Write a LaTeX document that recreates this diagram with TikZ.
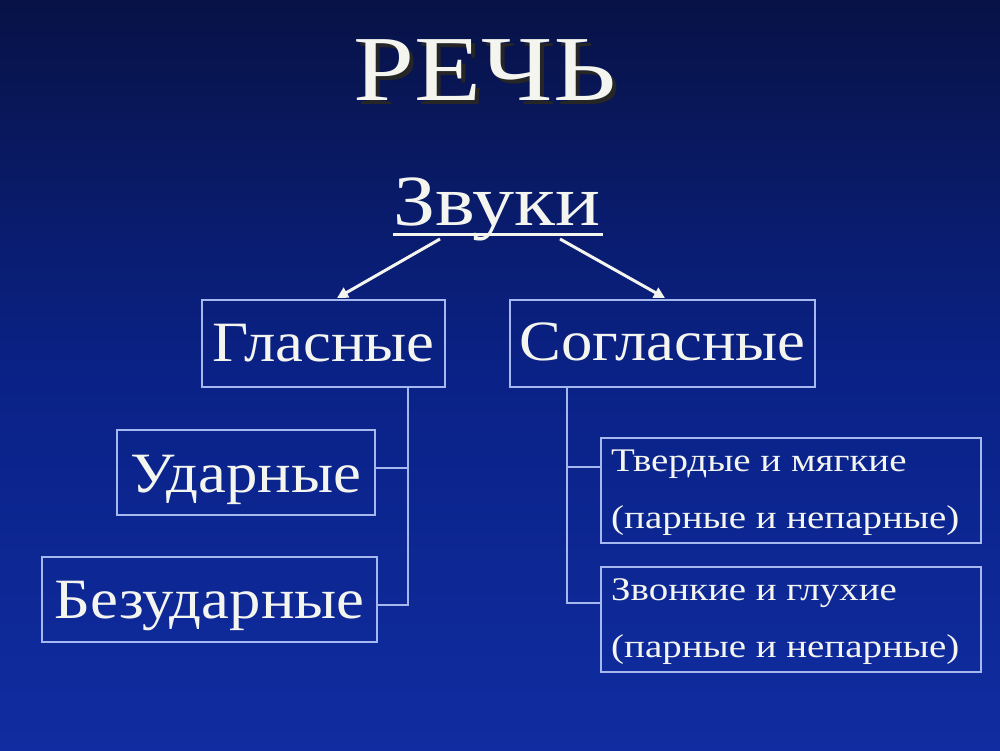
\documentclass[tikz,border=0pt]{standalone}
\usepackage{fontspec}
\setmainfont{Liberation Serif}
\newfontfamily\titlef[FakeStretch=1.18]{Liberation Serif}
\newfontfamily\zvf[FakeStretch=1.17]{Liberation Serif}
\newfontfamily\boxf[FakeStretch=1.1]{Liberation Serif}
\newfontfamily\smallf[FakeStretch=1.18]{Liberation Serif}
\usetikzlibrary{arrows.meta,shadings}
\definecolor{bgtop}{RGB}{8,18,70}
\definecolor{bgmid}{RGB}{10,34,135}
\definecolor{bgbot}{RGB}{16,44,160}
\definecolor{frame}{RGB}{165,185,240}
\definecolor{txt}{RGB}{245,245,240}
\tikzset{
  box/.style={draw=frame, line width=1.3pt, inner sep=0pt, text=txt},
  big/.style={font=\boxf\fontsize{57}{60}\selectfont, text=txt, anchor=base, inner sep=0pt},
  small/.style={font=\smallf\fontsize{33}{57}\selectfont, align=left, text=txt, anchor=base west, inner sep=0pt},
  link/.style={draw=frame, line width=1.3pt},
  arr/.style={draw=txt, line width=3pt, -{Triangle[length=11pt,width=11pt]}},
}
\begin{document}
\begin{tikzpicture}[x=1pt,y=-1pt]
\useasboundingbox (0,0) rectangle (1000,750);
\shade[top color=bgtop, bottom color=bgbot, middle color=bgmid] (0,0) rectangle (1000,750);
% title
\node[text=black!85, font=\titlef\fontsize{93}{96}\selectfont, anchor=base, inner sep=0pt] (titleshadow) at (489,104) {РЕЧЬ};
\node[text=txt, font=\titlef\fontsize{93}{96}\selectfont, anchor=base, inner sep=0pt] (title) at (485,100) {РЕЧЬ};
% sounds
\node[text=txt, font=\zvf\fontsize{72}{76}\selectfont, anchor=base, inner sep=0pt] (zvuki) at (497,225) {Звуки};
\coordinate (ulL) at (393,234);
\coordinate (ulR) at (603,234);
\draw[draw=txt, line width=3pt] (ulL) -- (ulR);
% level 1
\node[box, minimum width=243pt, minimum height=87pt] (glas) at (323.5,343.5) {};
\node[big] (glast) at (323.5,361) {Гласные};
\node[box, minimum width=305pt, minimum height=87pt] (sogl) at (662.5,343.5) {};
\node[big] (soglt) at (662.5,360) {Согласные};
\coordinate (a1s) at (440,239);
\coordinate (a2s) at (560,239);
\coordinate (a1e) at (337,298);
\coordinate (a2e) at (665,298);
\draw[arr] (a1s) -- (a1e);
\draw[arr] (a2s) -- (a2e);
% left branch
\node[box, minimum width=258pt, minimum height=85pt] (udar) at (246,472.5) {};
\node[big] (udart) at (246,492) {Ударные};
\node[box, minimum width=335pt, minimum height=85pt] (bezud) at (209.5,599.5) {};
\node[big] (bezudt) at (209.5,618) {Безударные};
\coordinate (lv) at (408,387);
\draw[link] (lv) -- (408,605) -- (bezud.east |- 0,605);
\draw[link] (udar.east |- 0,468) -- (408,468);
% right branch
\node[box, minimum width=380pt, minimum height=105pt] (tverd) at (791,490.5) {};
\node[small] (tverdt) at (611,528) {Твердые и мягкие\\(парные и непарные)};
\node[box, minimum width=380pt, minimum height=105pt] (zvon) at (791,619.5) {};
\node[small] (zvont) at (611,657) {Звонкие и глухие\\(парные и непарные)};
\coordinate (rv) at (567,387);
\draw[link] (rv) -- (567,603) -- (zvon.west |- 0,603);
\draw[link] (567,467) -- (tverd.west |- 0,467);
\end{tikzpicture}
\end{document}
